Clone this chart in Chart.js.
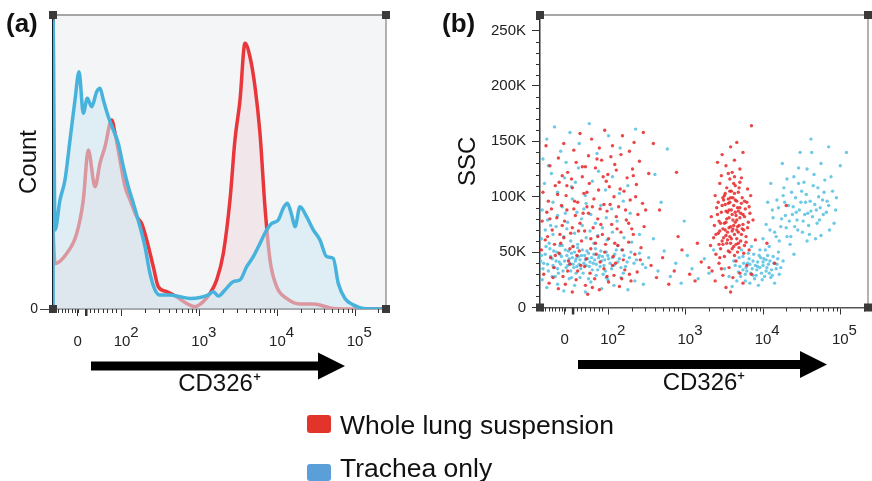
<!DOCTYPE html>
<html lang="en">
<head>
<meta charset="UTF-8" />
<title>CD326+ staining: histogram and SSC dot plot</title>
<script src="https://cdn.jsdelivr.net/npm/chart.js@4.4.1/dist/chart.umd.min.js"></script>
<style>
  body { margin: 0; background: #fff; font-family: "Liberation Sans", Arial, sans-serif; color: #111; }
  #wrap { position: relative; width: 872px; height: 481px; overflow: hidden; }
  canvas { position: absolute; top: 0; }
  #histo { left: 0; }
  #dots { left: 440px; }
  .panel { position: absolute; top: 10px; font-weight: bold; font-size: 26px; line-height: 1; }
  .swatch { position: absolute; left: 307px; width: 24px; border-radius: 3px; }
  .keytext { position: absolute; left: 340px; font-size: 26.5px; line-height: 1; white-space: nowrap; }
</style>
</head>
<body>
<div id="wrap">
  <canvas id="histo" width="420" height="481"></canvas>
  <canvas id="dots" width="432" height="481"></canvas>
  <div class="panel" style="left:6px">(a)</div>
  <div class="panel" style="left:442px">(b)</div>
  <!-- shared legend -->
  <div class="swatch" style="top:415px;height:18px;background:#e2342b"></div>
  <div class="keytext" style="top:412px">Whole lung suspension</div>
  <div class="swatch" style="top:464px;height:17px;background:#5b9fd8"></div>
  <div class="keytext" style="top:455px">Trachea only</div>
</div>

<script>
  // x positions are in display units of the logicle axis (2 = 10^2, 3 = 10^3 ...)
  const xTickValues = [1.43, 2, 3, 4, 5];
  const xTickExponents = [null, 2, 3, 4, 5]; // null -> plain "0"
  const lowMinorTicks = [1.14, 1.18, 1.23, 1.27, 1.31, 1.36, 1.40, 1.44, 1.59, 1.64, 1.69, 1.76, 1.81, 1.87, 1.92];
  const zeroMark = 1.54;
  const sscTickValues = [0, 50, 100, 150, 200, 250];
  const sscTickLabels = ["0", "50K", "100K", "150K", "200K", "250K"];

  // histogram (a): % of max count
  const lungU = [1.112, 1.138, 1.288, 1.417, 1.502, 1.566, 1.653, 1.717, 1.781, 1.867, 1.910, 1.974, 2.039, 2.103, 2.189,
    2.253, 2.318, 2.403, 2.467, 2.575, 2.704, 2.832, 2.940, 3.046, 3.133, 3.219, 3.304, 3.390, 3.454, 3.519, 3.583,
    3.647, 3.712, 3.776, 3.840, 3.905, 3.991, 4.119, 4.291, 4.462, 4.720, 5.000, 5.398];
  const lungCount = [27, 15.5, 18.9, 25.7, 37.1, 54.1, 41.6, 49.6, 55.2, 64.3, 59.8, 50.7, 41.6, 37.1, 31.4,
    29.1, 23.5, 14.4, 7.6, 5.9, 4.2, 1.9, 0.8, 2.5, 5.3, 9.9, 18.9, 37.1, 57.5, 71.1, 90.4,
    85.8, 75.6, 59.8, 34.8, 16.7, 7.6, 3.6, 1.7, 1.7, 0.2, 0, 0];
  const tracheaU = [1.112, 1.1121, 1.138, 1.202, 1.266, 1.331, 1.395, 1.447, 1.502, 1.553, 1.610, 1.674, 1.717, 1.760,
    1.824, 1.888, 1.952, 2.017, 2.081, 2.146, 2.232, 2.296, 2.360, 2.425, 2.489, 2.618, 2.746, 2.875, 3.004, 3.111,
    3.175, 3.240, 3.326, 3.433, 3.519, 3.605, 3.690, 3.776, 3.862, 3.927, 4.012, 4.076, 4.128, 4.184, 4.227, 4.291,
    4.376, 4.462, 4.548, 4.634, 4.719, 4.784, 4.870, 4.977, 5.106, 5.398];
  const tracheaCount = [0, 98, 26.9, 37.1, 43.9, 57.5, 71.1, 80.7, 66.6, 71.7, 68.8, 73.9, 75.1, 71.1,
    65.4, 60.9, 56.4, 48.4, 41.6, 36.0, 28.0, 21.2, 12.1, 6.5, 4.8, 4.8, 4.2, 3.6, 3.9, 4.8,
    5.9, 4.4, 6.5, 9.3, 9.9, 14.4, 17.8, 22.3, 26.9, 29.1, 30.3, 34.3, 36.0, 32.0, 28.0, 34.8,
    31.4, 26.9, 23.5, 17.8, 17.2, 8.7, 3.6, 1.4, 0.2, 0];

  // dot plot (b): [CD326 display unit, SSC in K]
  const lungDots = [
    [1.42,148],[1.63,157],[1.78,152],[1.95,160],[2.05,146],[2.18,155],[2.33,149],[2.45,158],[1.55,142],[1.88,144],[2.27,141],[1.19,146],
    [1.24,128],[1.35,135],[1.47,122],[1.58,131],[1.66,118],[1.74,137],[1.83,126],[1.91,133],[1.99,120],[2.08,129],[2.16,138],[2.24,117],
    [2.31,125],[2.40,132],[2.52,121],[1.52,116],[1.70,127],[2.03,136],
    [1.15,104],[1.22,96],[1.31,110],[1.39,92],[1.45,101],[1.53,108],[1.60,95],[1.68,103],[1.75,112],[1.81,98],[1.87,106],[1.94,93],
    [2.01,109],[2.07,100],[2.13,91],[2.20,105],[2.28,97],[2.36,111],[2.44,94],[1.72,91],[1.97,114],[1.36,113],
    [1.14,78],[1.20,86],[1.27,70],[1.33,81],[1.40,74],[1.46,88],[1.51,67],[1.57,83],[1.63,76],[1.69,69],[1.74,85],[1.80,72],[1.86,80],
    [1.92,66],[1.98,87],[2.04,75],[2.10,82],[2.16,68],[2.23,79],[2.30,71],[2.38,84],[1.37,66],[1.55,89],[1.89,89],[2.46,73],
    [1.13,52],[1.18,61],[1.25,45],[1.30,57],[1.36,49],[1.42,63],[1.48,42],[1.54,55],[1.59,47],[1.65,60],[1.71,44],[1.77,53],[1.83,58],
    [1.89,41],[1.95,50],[2.00,62],[2.06,46],[2.12,56],[2.19,43],[2.26,59],[2.34,48],[2.42,54],[1.62,51],[1.86,64],[2.09,40],
    [1.16,30],[1.23,22],[1.29,36],[1.35,17],[1.41,28],[1.47,33],[1.53,14],[1.58,25],[1.64,38],[1.70,20],[1.76,31],[1.82,26],[1.88,16],
    [1.94,35],[2.00,23],[2.07,29],[2.14,19],[2.21,34],[2.29,24],[2.37,32],[1.50,39],[1.73,12],
    [1.21,64],[1.26,89],[1.31,47],[1.34,102],[1.38,58],[1.43,78],[1.46,110],[1.50,53],[1.56,96],[1.61,69],[1.67,85],[1.69,37],
    [1.72,104],[1.77,62],[1.79,91],[1.84,48],[1.90,75],[1.93,118],[1.96,57],[2.02,93],[2.05,38],[2.11,71],[2.15,107],[2.18,52],
    [2.22,88],[2.27,30],[2.32,66],[2.35,100],[2.41,43],[1.28,27],[1.44,21],[1.60,33],[1.79,18],[1.98,28],[2.17,26],[1.66,127],
    [1.85,134],[2.10,124],[2.32,119],[1.40,119],[1.24,80],[1.53,72],[2.08,58],[2.48,88],[2.26,76],
    [2.55,38],[2.62,27],[2.70,45],[2.78,21],[2.85,33],[2.95,52],[3.05,30],[3.12,24],[3.20,41],[2.66,88],[2.90,64],[3.15,58],[3.30,36],
    [2.58,148],[2.88,122],
    [3.52,128],[3.58,145],[3.63,133],[3.70,125],[3.47,138],[3.66,149],[3.55,121],[3.74,140],[3.60,122],[3.41,131],
    [3.38,101],[3.44,112],[3.49,97],[3.53,108],[3.57,116],[3.61,99],[3.64,110],[3.68,104],[3.72,117],[3.76,96],[3.80,107],[3.46,119],
    [3.51,103],[3.59,105],[3.66,96],[3.70,113],[3.55,98],[3.63,118],[3.42,95],[3.84,101],
    [3.33,82],[3.37,74],[3.40,90],[3.43,78],[3.46,86],[3.48,71],[3.51,93],[3.53,80],[3.56,88],[3.58,73],[3.60,84],[3.62,92],[3.64,77],
    [3.66,70],[3.68,87],[3.70,81],[3.72,94],[3.74,75],[3.77,89],[3.80,72],[3.83,85],[3.87,79],[3.50,76],[3.57,95],[3.61,71],[3.65,83],
    [3.54,86],[3.69,74],
    [3.32,56],[3.36,63],[3.39,48],[3.42,67],[3.45,53],[3.47,60],[3.50,46],[3.52,65],[3.55,51],[3.58,58],[3.60,69],[3.63,47],[3.66,62],
    [3.69,54],[3.72,66],[3.75,49],[3.78,59],[3.82,52],[3.90,61],[3.48,57],[3.57,64],[3.62,55],[3.44,45],[3.67,50],[3.54,68],
    [3.34,33],[3.38,24],[3.43,40],[3.48,29],[3.52,18],[3.56,36],[3.61,27],[3.65,42],[3.70,31],[3.74,22],[3.79,38],[3.46,35],[3.58,14],
    [3.41,84],[3.44,69],[3.47,92],[3.49,63],[3.50,101],[3.52,77],[3.53,58],[3.55,94],[3.56,72],[3.57,105],[3.59,62],[3.59,88],
    [3.61,79],[3.62,112],[3.63,66],[3.64,97],[3.65,57],[3.67,90],[3.68,68],[3.69,108],[3.71,85],[3.71,60],[3.73,99],[3.75,70],
    [3.76,82],[3.78,64],[3.79,95],[3.81,77],[3.45,76],[3.48,99],[3.51,70],[3.54,61],[3.56,81],[3.58,99],[3.60,53],[3.62,74],
    [3.64,86],[3.66,79],[3.68,58],[3.70,90],[3.73,71],[3.76,56],[3.52,87],[3.57,50],[3.63,103],[3.67,73],[3.43,57],[3.74,84],
    [3.39,66],[3.82,91],
    [3.85,30],[3.85,164],[4.05,58],[4.30,92],[4.15,40]
  ];
  const tracheaDots = [
    [1.20,152],[1.30,163],[1.38,141],[1.50,158],[1.62,148],[1.75,166],[1.85,139],[2.00,155],[2.15,144],[2.35,161],[1.15,134],[1.45,131],
    [1.17,112],[1.26,121],[1.34,104],[1.43,117],[1.52,109],[1.61,126],[1.70,101],[1.79,114],[1.87,123],[1.96,106],[2.05,118],[2.14,103],
    [1.22,128],[1.57,113],[2.25,110],
    [1.14,88],[1.21,79],[1.28,95],[1.34,83],[1.40,91],[1.47,77],[1.53,98],[1.59,86],[1.65,80],[1.71,94],[1.77,84],[1.83,76],[1.90,92],
    [1.97,81],[2.04,89],[2.11,78],[2.19,96],[2.28,85],[1.44,85],[1.68,89],
    [1.13,62],[1.18,70],[1.23,58],[1.28,66],[1.32,73],[1.37,56],[1.42,64],[1.46,71],[1.51,60],[1.56,67],[1.60,57],[1.66,74],[1.71,63],
    [1.76,69],[1.81,58],[1.86,65],[1.92,72],[1.98,61],[2.05,68],[2.12,56],[2.20,63],[2.30,59],[2.40,66],[1.25,74],[1.54,55],
    [1.12,42],[1.15,35],[1.18,48],[1.21,39],[1.24,53],[1.27,44],[1.30,36],[1.33,50],[1.36,41],[1.39,46],[1.41,33],[1.44,52],[1.47,38],
    [1.49,44],[1.52,49],[1.55,36],[1.57,42],[1.60,54],[1.62,39],[1.65,47],[1.67,31],[1.70,43],[1.72,51],[1.75,37],[1.78,45],[1.80,40],
    [1.83,53],[1.86,34],[1.88,47],[1.91,42],[1.94,38],[1.97,50],[2.00,44],[2.04,35],[2.08,48],[2.12,41],[2.17,52],[2.22,37],[2.27,45],
    [2.33,40],[2.40,49],[2.48,36],[1.58,31],[1.35,31],[1.93,30],
    [1.13,47],[1.16,40],[1.19,55],[1.22,33],[1.25,46],[1.28,38],[1.29,51],[1.32,42],[1.34,35],[1.37,48],[1.38,39],[1.40,56],
    [1.43,42],[1.45,36],[1.46,47],[1.48,51],[1.50,40],[1.51,33],[1.53,45],[1.54,39],[1.56,50],[1.58,44],[1.59,37],[1.61,46],
    [1.63,43],[1.64,35],[1.66,52],[1.68,40],[1.69,47],[1.71,38],[1.73,44],[1.74,49],[1.76,41],[1.79,34],[1.81,48],[1.82,43],
    [1.84,39],[1.87,45],[1.89,37],[1.90,51],[1.92,46],[1.95,43],[1.96,33],[1.99,47],[2.02,40],[2.05,45],[2.07,38],[2.10,52],
    [2.14,44],[2.16,36],[2.20,47],[2.24,41],[2.29,50],[2.36,43],[2.44,39],[1.31,28],[1.52,27],[1.74,26],[1.97,27],[2.19,31],
    [1.14,25],[1.20,18],[1.27,28],[1.34,21],[1.42,15],[1.49,26],[1.56,20],[1.63,27],[1.70,14],[1.77,23],[1.84,29],[1.91,17],[1.99,25],
    [2.07,20],[2.16,27],[2.25,16],[2.34,24],[2.45,21],
    [2.52,45],[2.58,62],[2.64,33],[2.72,51],[2.80,28],[2.87,40],[2.94,22],[3.02,47],[3.08,35],[3.16,26],[3.24,44],[3.30,31],[2.68,95],
    [2.76,143],[2.98,78],[3.36,52],[2.60,120],
    [3.50,35],[3.56,28],[3.62,42],[3.66,24],[3.70,37],[3.74,46],[3.77,30],[3.80,40],[3.83,22],[3.86,35],[3.88,48],[3.91,29],[3.93,41],
    [3.96,36],[3.99,25],[4.01,44],[4.04,33],[4.07,39],[4.10,27],[4.13,46],[4.17,35],[4.21,30],[4.26,42],[3.72,52],[3.85,55],[3.94,20],
    [4.03,52],[3.79,33],[3.90,38],[3.97,45],[4.08,31],[3.68,32],[3.82,44],[4.00,38],[3.60,19],[4.15,22],
    [3.64,38],[3.69,45],[3.71,28],[3.75,40],[3.78,36],[3.81,49],[3.84,31],[3.87,42],[3.89,26],[3.92,34],[3.95,47],[3.98,31],
    [4.00,41],[4.02,28],[4.05,36],[4.06,47],[4.09,42],[4.11,34],[4.14,40],[4.19,44],[4.23,36],[3.77,24],[3.87,29],[3.96,52],
    [4.12,29],[3.74,34],[3.93,37],[4.04,43],[3.83,39],[4.18,39],
    [4.00,62],[4.04,75],[4.08,55],[4.12,88],[4.15,68],[4.18,97],[4.21,60],[4.24,80],[4.27,108],[4.30,72],[4.33,92],[4.35,57],[4.38,84],
    [4.40,118],[4.42,99],[4.45,70],[4.47,88],[4.50,105],[4.52,78],[4.55,95],[4.57,125],[4.60,66],[4.62,87],[4.65,110],[4.67,93],
    [4.70,76],[4.72,100],[4.75,130],[4.78,84],[4.80,115],[4.83,96],[4.86,70],[4.90,105],[4.94,88],[4.10,112],[4.25,130],[4.48,140],
    [4.62,152],[4.85,145],[5.00,128],[4.36,64],[4.44,79],[4.58,85],[4.68,62],[4.28,95],[4.53,113],[4.74,90],[4.06,95],[4.20,50],
    [4.92,76],[4.40,48],[4.63,140],[5.08,140],
    [4.09,70],[4.13,81],[4.17,64],[4.20,90],[4.23,73],[4.26,101],[4.29,83],[4.31,64],[4.34,78],[4.37,104],[4.39,91],[4.41,73],
    [4.43,86],[4.46,112],[4.49,95],[4.51,68],[4.54,84],[4.56,102],[4.59,74],[4.61,96],[4.64,82],[4.66,120],[4.69,88],[4.71,108],
    [4.73,79],[4.77,97],[4.79,104],[4.82,86],[4.85,92],[4.88,118],[4.31,116],[4.46,126],[4.57,60],[4.75,65],[4.95,99]
  ];

  const family = "'Liberation Sans', Arial, sans-serif";
  Chart.defaults.font.family = family;
  Chart.defaults.color = "#222";

  // log minor ticks for each decade shown
  const decadeMinor = [];
  [2, 3, 4, 5].forEach((d) => {
    for (let k = 2; k <= 9; k++) decadeMinor.push(d + Math.log10(k));
  });

  // frame, corner marks, minor ticks and the arrow under the x axis
  const frameDecor = {
    id: "frameDecor",
    beforeDraw(chart, args, o) {
      if (!o.background) return;
      const { ctx, chartArea: a } = chart;
      ctx.save();
      ctx.fillStyle = o.background;
      ctx.fillRect(a.left, a.top, a.width, a.height);
      ctx.restore();
    },
    afterDraw(chart, args, o) {
      const { ctx, chartArea: a, scales } = chart;
      const x = scales.x, y = scales.y;
      ctx.save();
      ctx.strokeStyle = "#8a8a8a";
      ctx.lineWidth = 1.3;
      ctx.beginPath();
      ctx.moveTo(a.left, a.top); ctx.lineTo(a.right, a.top); ctx.lineTo(a.right, a.bottom);
      ctx.stroke();

      ctx.strokeStyle = "#333";
      ctx.lineWidth = 1;
      ctx.beginPath();
      lowMinorTicks.concat(decadeMinor).forEach((v) => {
        if (v < x.min || v > x.max) return;
        const px = Math.round(x.getPixelForValue(v)) + 0.5;
        ctx.moveTo(px, a.bottom); ctx.lineTo(px, a.bottom + 4);
      });
      if (o.yMinor) {
        o.yMinor.forEach((v) => {
          const py = Math.round(y.getPixelForValue(v)) + 0.5;
          ctx.moveTo(a.left, py); ctx.lineTo(a.left - 4, py);
        });
      }
      ctx.stroke();
      const zx = x.getPixelForValue(zeroMark);
      ctx.lineWidth = 2.5;
      ctx.beginPath();
      ctx.moveTo(zx, a.bottom); ctx.lineTo(zx, a.bottom + 7);
      ctx.stroke();

      ctx.fillStyle = "#3a3a3a";
      [[a.left, a.top], [a.right, a.top], [a.left, a.bottom], [a.right, a.bottom]].forEach(([cx, cy]) => {
        ctx.fillRect(cx - 4, cy - 4, 8, 8);
      });

      // arrow
      const x0 = a.left + 38, tip = a.right - 41, cy = a.bottom + 57;
      ctx.fillStyle = "#000";
      ctx.beginPath();
      ctx.moveTo(x0, cy - 4.5);
      ctx.lineTo(tip - 27, cy - 4.5);
      ctx.lineTo(tip - 27, cy - 13.5);
      ctx.lineTo(tip, cy);
      ctx.lineTo(tip - 27, cy + 13.5);
      ctx.lineTo(tip - 27, cy + 4.5);
      ctx.lineTo(x0, cy + 4.5);
      ctx.closePath();
      ctx.fill();
      ctx.restore();
    },
  };

  // "10" with the exponent on a raised line just right of it
  function decadeLabel(v, i) {
    const e = xTickExponents[i];
    if (e === null) return ["", "0"];
    return ["      " + e, "10"];
  }

  function cd326Axis(max) {
    return {
      type: "linear",
      min: 1.112,
      max: max,
      afterFit(s) { s.height = 90; s.paddingLeft = 0; s.paddingRight = 0; },
      afterBuildTicks(s) { s.ticks = xTickValues.map((v) => ({ value: v })); },
      ticks: {
        callback: decadeLabel,
        autoSkip: false, maxRotation: 0, padding: 12,
        font: { size: 15, lineHeight: 0.6 }, color: "#222",
      },
      grid: { drawOnChartArea: false, tickLength: 7, tickColor: "#333" },
      border: { color: "#555", width: 1.5 },
      title: {
        display: true, text: "CD326⁺", color: "#111",
        font: { size: 24 }, padding: { top: 0, bottom: 0 },
      },
    };
  }

  new Chart(document.getElementById("histo"), {
    type: "line",
    data: {
      datasets: [
        {
          label: "Trachea only",
          data: tracheaU.map((u, i) => ({ x: u, y: tracheaCount[i] })),
          borderColor: "#47b3dc",
          backgroundColor: "rgba(205,232,242,0.55)",
          borderWidth: 3.5,
          fill: "origin",
          pointRadius: 0,
          cubicInterpolationMode: "monotone",
        },
        {
          label: "Whole lung suspension",
          data: lungU.map((u, i) => ({ x: u, y: lungCount[i] })),
          borderColor: "#e8363a",
          backgroundColor: "rgba(236,185,188,0.24)",
          borderWidth: 3.5,
          fill: "origin",
          pointRadius: 0,
          cubicInterpolationMode: "monotone",
        },
      ],
    },
    options: {
      responsive: false,
      animation: false,
      devicePixelRatio: 1,
      layout: { padding: { top: 15, right: 34, bottom: 82, left: 0 } },
      plugins: {
        legend: { display: false },
        tooltip: { enabled: false },
        frameDecor: { background: "#f3f5f7" },
      },
      scales: {
        x: cd326Axis(5.398),
        y: {
          min: 0,
          max: 100,
          afterFit(s) { s.width = 53; s.paddingTop = 0; s.paddingBottom = 0; },
          afterBuildTicks(s) { s.ticks = [{ value: 0 }]; },
          ticks: { callback: () => "0", padding: 2, font: { size: 14 }, color: "#222" },
          grid: { drawOnChartArea: false, tickLength: 13, tickColor: "#444" },
          border: { color: "#10222e", width: 2.5 },
          title: {
            display: true, text: "Count", color: "#111",
            font: { size: 24 }, padding: { top: 15, bottom: 0 },
          },
        },
      },
    },
    plugins: [frameDecor],
  });

  const sscMinor = [];
  for (let v = 10; v <= 260; v += 10) if (v % 50 !== 0) sscMinor.push(v);

  new Chart(document.getElementById("dots"), {
    type: "scatter",
    data: {
      datasets: [
        {
          label: "Whole lung suspension",
          data: lungDots.map(([u, s]) => ({ x: u, y: s })),
          backgroundColor: "rgba(232,38,40,0.85)",
          pointRadius: 1.7,
          pointBorderWidth: 0,
        },
        {
          label: "Trachea only",
          data: tracheaDots.map(([u, s]) => ({ x: u, y: s })),
          backgroundColor: "rgba(84,192,226,0.85)",
          pointRadius: 1.7,
          pointBorderWidth: 0,
        },
      ],
    },
    options: {
      responsive: false,
      animation: false,
      devicePixelRatio: 1,
      layout: { padding: { top: 15, right: 2, bottom: 83.5, left: 0 } },
      plugins: {
        legend: { display: false },
        tooltip: { enabled: false },
        frameDecor: { yMinor: sscMinor },
      },
      scales: {
        x: cd326Axis(5.359),
        y: {
          min: 0,
          max: 264,
          afterFit(s) { s.width = 100; s.paddingTop = 0; s.paddingBottom = 0; },
          afterBuildTicks(s) { s.ticks = sscTickValues.map((v) => ({ value: v })); },
          ticks: { callback: (v, i) => sscTickLabels[i], padding: 6, font: { size: 15 }, color: "#222" },
          grid: { drawOnChartArea: false, tickLength: 8, tickColor: "#333" },
          border: { color: "#333", width: 1.5 },
          title: {
            display: true, text: "SSC", color: "#111",
            font: { size: 24 }, padding: { top: 14, bottom: 0 },
          },
        },
      },
    },
    plugins: [frameDecor],
  });
</script>
</body>
</html>
